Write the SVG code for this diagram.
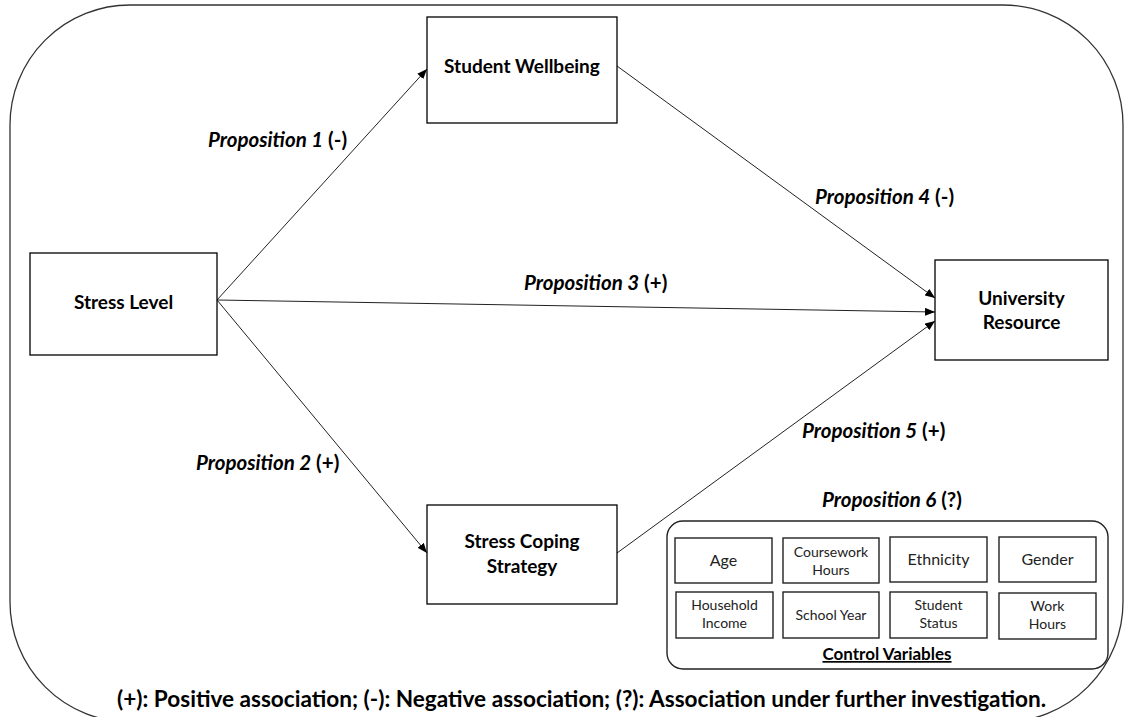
<svg xmlns="http://www.w3.org/2000/svg" width="1124" height="717" viewBox="0 0 1124 717">
<defs>
<marker id="arr" markerUnits="userSpaceOnUse" markerWidth="10" markerHeight="8" refX="10" refY="4" orient="auto">
<path d="M0,0 L10,4 L0,8 z" fill="#000"/>
</marker>
<style>
.frame{fill:none;stroke:#333;stroke-width:1.3}
.box{fill:#fff;stroke:#000;stroke-width:1.3}
.sbox{fill:#fff;stroke:#222;stroke-width:1.4}
.lbl{font-family:Lato,"Open Sans",sans-serif;font-weight:bold;font-size:19px;fill:#000;text-anchor:middle}
.prop{font-family:Lato,"Open Sans",sans-serif;font-weight:bold;font-size:20.5px;fill:#000}
.prop .it{font-style:italic}
.cv{font-family:Lato,"Open Sans",sans-serif;font-size:16px;fill:#222;text-anchor:middle}
.cv2{font-family:Lato,"Open Sans",sans-serif;font-size:14px;fill:#222;text-anchor:middle}
.con{stroke:#222;stroke-width:1;fill:none;marker-end:url(#arr)}
</style>
</defs>
<rect class="frame" x="10" y="5" width="1113" height="717" rx="120" ry="120"/>
<g id="connectors">
<line class="con" x1="217" y1="300" x2="427" y2="69"/>
<line class="con" x1="217" y1="300" x2="427" y2="553"/>
<line class="con" x1="217" y1="300" x2="935" y2="312"/>
<line class="con" x1="617" y1="66" x2="935" y2="298"/>
<line class="con" x1="617" y1="553" x2="935" y2="321"/>
</g>
<g id="stress-level">
<rect class="box" x="30" y="253" width="187" height="102"/>
<text class="lbl" x="123.5" y="309">Stress Level</text>
</g>
<g id="student-wellbeing">
<rect class="box" x="427" y="17" width="190" height="106"/>
<text class="lbl" x="522" y="73">Student Wellbeing</text>
</g>
<g id="university-resource">
<rect class="box" x="935" y="260" width="173" height="100"/>
<text class="lbl" x="1021.5" y="305">University</text>
<text class="lbl" x="1021.5" y="329">Resource</text>
</g>
<g id="stress-coping-strategy">
<rect class="box" x="427" y="505" width="190" height="99"/>
<text class="lbl" x="522" y="548">Stress Coping</text>
<text class="lbl" x="522" y="573">Strategy</text>
</g>
<g id="labels">
<text class="prop" x="208" y="147"><tspan class="it">Proposition 1</tspan> (-)</text>
<text class="prop" x="196" y="470"><tspan class="it">Proposition 2</tspan> (+)</text>
<text class="prop" x="524" y="290"><tspan class="it">Proposition 3</tspan> (+)</text>
<text class="prop" x="815" y="204"><tspan class="it">Proposition 4</tspan> (-)</text>
<text class="prop" x="802" y="438"><tspan class="it">Proposition 5</tspan> (+)</text>
<text class="prop" x="892" y="507" text-anchor="middle"><tspan class="it">Proposition 6</tspan> (?)</text>
</g>
<g id="control-variables">
<rect class="sbox" x="667" y="521" width="441" height="148" rx="16" ry="16"/>
<g id="cv-age"><rect class="sbox" x="675" y="538" width="97" height="45"/><text class="cv" x="723.5" y="566">Age</text></g>
<g id="cv-coursework"><rect class="sbox" x="783" y="538" width="96" height="45"/><text class="cv2" x="831" y="557">Coursework</text><text class="cv2" x="831" y="575">Hours</text></g>
<g id="cv-ethnicity"><rect class="sbox" x="890" y="537" width="97" height="45"/><text class="cv" x="938.5" y="565">Ethnicity</text></g>
<g id="cv-gender"><rect class="sbox" x="999" y="537" width="97" height="45"/><text class="cv" x="1047.5" y="565">Gender</text></g>
<g id="cv-income"><rect class="sbox" x="676" y="592" width="97" height="46"/><text class="cv2" x="724.5" y="610">Household</text><text class="cv2" x="724.5" y="628">Income</text></g>
<g id="cv-year"><rect class="sbox" x="783" y="592" width="96" height="46"/><text class="cv2" x="831" y="620">School Year</text></g>
<g id="cv-status"><rect class="sbox" x="890" y="592" width="97" height="46"/><text class="cv2" x="938.5" y="610">Student</text><text class="cv2" x="938.5" y="628">Status</text></g>
<g id="cv-work"><rect class="sbox" x="999" y="593" width="97" height="46"/><text class="cv2" x="1047.5" y="611">Work</text><text class="cv2" x="1047.5" y="629">Hours</text></g>
<text class="lbl" x="887" y="660" style="font-size:17px;text-decoration:underline">Control Variables</text>
</g>
<text id="legend" class="lbl" x="581.5" y="707" style="font-size:22.5px" textLength="929" lengthAdjust="spacingAndGlyphs">(+): Positive association; (-): Negative association; (?): Association under further investigation.</text>
</svg>
